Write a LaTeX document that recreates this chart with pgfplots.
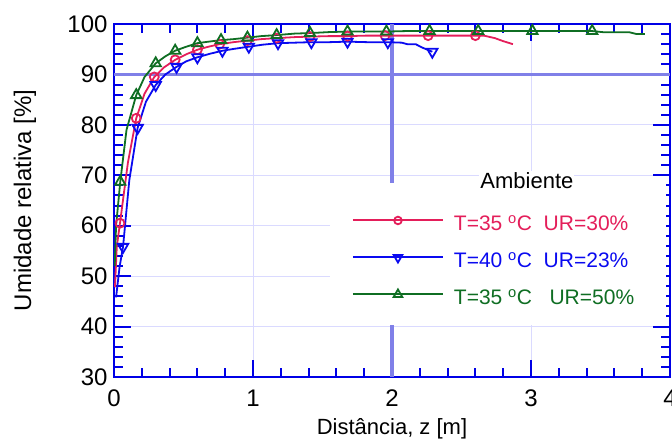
\documentclass[border=0pt]{standalone}
\usepackage{pgfplots}
\pgfplotsset{compat=1.18}
\usepackage{fontspec}
\setmainfont{Liberation Sans}
\definecolor{cred}{RGB}{228,30,90}
\definecolor{cblue}{RGB}{10,10,240}
\definecolor{cgreen}{RGB}{15,110,35}
\definecolor{caxis}{RGB}{0,0,230}
\definecolor{ccross}{RGB}{128,128,232}
\definecolor{cgrid}{RGB}{218,218,255}
\begin{document}
\begin{tikzpicture}
\path[use as bounding box] (-114bp,-65bp) rectangle (558bp,377bp);
\begin{axis}[
  scale only axis, width=556bp, height=353bp,
  xmin=0, xmax=4, ymin=30, ymax=100,
  xtick={0,1,2,3,4}, ytick={30,40,...,100},
  minor x tick num=4, minor y tick num=4,
  tick align=inside,
  major tick length=17bp, minor tick length=9bp,
  every tick/.style={caxis, line width=2bp},
  axis line style={caxis, line width=2.5bp},
  grid=major, major grid style={cgrid, line width=0.8bp},
  /pgf/number format/assume math mode=true,
  ticklabel style={font=\fontsize{24bp}{24bp}\selectfont},
  xticklabel style={yshift=-9bp},
  yticklabel style={xshift=-3bp},
  xlabel={Distância, z [m]},
  ylabel={Umidade relativa [\%]},
  xlabel style={font=\fontsize{22bp}{22bp}\selectfont, at={(axis description cs:0.5,-0.147)}, anchor=center},
  ylabel style={font=\fontsize{24bp}{24bp}\selectfont, at={(axis description cs:-0.16,0.5)}, anchor=center},
  legend cell align=left,
  legend style={at={(axis description cs:0.428,0.459)}, anchor=north west,
    draw=none, fill=none, inner sep=0pt, outer sep=0pt,
    font=\fontsize{21bp}{21bp}\selectfont,
    nodes={text height=16bp, text depth=5bp, inner sep=0pt},
    row sep=16bp, column sep=10bp},
]
\draw[ccross, line width=3.5bp] (axis cs:2,30) -- (axis cs:2,100);
\draw[ccross, line width=3.5bp] (axis cs:0,90) -- (axis cs:4,90);
\fill[white] (axis cs:1.554,40.3) rectangle (axis cs:3.97,68.45);
\node[fill=white, inner sep=1bp, anchor=base, font=\fontsize{22bp}{22bp}\selectfont] at (axis cs:2.971,67.46) {Ambiente};

% red
\addplot[cred, line width=1.8bp, forget plot] coordinates {
(0.007,47.8) (0.02,55.8) (0.043,60.5) (0.1,72.5) (0.16,81.3) (0.22,86.2) (0.29,89.5)
(0.36,91.4) (0.44,92.9) (0.52,94.0) (0.6,94.9) (0.68,95.5) (0.76,96.0) (0.86,96.4)
(0.96,96.7) (1.06,97.0) (1.17,97.2) (1.3,97.4) (1.41,97.5) (1.55,97.6) (1.68,97.6)
(1.82,97.7) (1.95,97.7) (2.1,97.7) (2.26,97.7) (2.45,97.7) (2.6,97.7) (2.66,97.7)
(2.74,97.2) (2.8,96.6) (2.87,96.0)};
\addplot[cred, only marks, mark=o, mark size=4.5bp, mark options={line width=1.8bp, solid},
  legend image code/.code={\draw[draw=cred, line width=2bp] (0bp,5bp) -- (90bp,5bp);
     \draw[draw=cred, fill=white, mark size=3.8bp, line width=1.4bp] plot coordinates {(45bp,5bp)};}] coordinates {
(0.043,60.5) (0.16,81.3) (0.29,89.5) (0.44,92.9) (0.6,94.9) (0.76,96.0) (0.96,96.7)
(1.17,97.2) (1.41,97.5) (1.68,97.6) (1.95,97.7) (2.26,97.7) (2.6,97.7)};
\addlegendentry{\textcolor{cred}{T=35 \textsuperscript{o}C\ \ UR=30\%}}

% blue
\addplot[cblue, line width=1.8bp, forget plot] coordinates {
(0.015,45.8) (0.04,51.8) (0.065,55.8) (0.11,69) (0.17,79.4) (0.23,84.6) (0.3,87.9)
(0.37,90.0) (0.45,91.5) (0.52,92.6) (0.6,93.4) (0.69,94.1) (0.78,94.7) (0.87,95.1)
(0.97,95.5) (1.07,95.9) (1.18,96.2) (1.3,96.3) (1.42,96.4) (1.55,96.4) (1.68,96.5)
(1.82,96.4) (1.97,96.4) (2.07,96.3) (2.11,96.0) (2.17,96.0) (2.22,95.3) (2.29,94.5)};
\addplot[cblue, only marks, mark=triangle, mark size=6bp, mark options={line width=1.8bp, solid, rotate=180},
  legend image code/.code={\draw[draw=cblue, line width=2bp] (0bp,5bp) -- (90bp,5bp);
     \draw[draw=cblue, fill=white, mark size=5bp, line width=1.4bp] plot coordinates {(45bp,5bp)};}] coordinates {
(0.065,55.8) (0.17,79.4) (0.3,87.9) (0.45,91.5) (0.6,93.4) (0.78,94.7) (0.97,95.5)
(1.18,96.2) (1.42,96.4) (1.68,96.5) (1.97,96.4) (2.29,94.5)};
\addlegendentry{\textcolor{cblue}{T=40 \textsuperscript{o}C\ \ UR=23\%}}

% green
\addplot[cgreen, line width=1.8bp, forget plot] coordinates {
(0.005,52) (0.015,60) (0.045,68.7) (0.09,79) (0.16,85.9) (0.22,89.5) (0.3,92.2)
(0.37,93.6) (0.44,94.7) (0.52,95.5) (0.6,96.2) (0.68,96.5) (0.77,96.8) (0.86,97.0)
(0.96,97.3) (1.06,97.6) (1.17,97.8) (1.3,98.1) (1.41,98.2) (1.55,98.4) (1.68,98.5)
(1.82,98.5) (1.96,98.5) (2.1,98.6) (2.27,98.6) (2.45,98.6) (2.62,98.6) (2.8,98.6)
(3.01,98.6) (3.2,98.6) (3.44,98.6) (3.53,98.35) (3.71,98.35) (3.76,98.0) (3.82,98.0)};
\addplot[cgreen, only marks, mark=triangle, mark size=6bp, mark options={line width=1.8bp, solid},
  legend image code/.code={\draw[draw=cgreen, line width=2bp] (0bp,5bp) -- (90bp,5bp);
     \draw[draw=cgreen, fill=white, mark size=5bp, line width=1.4bp] plot coordinates {(45bp,5bp)};}] coordinates {
(0.045,68.7) (0.16,85.9) (0.3,92.2) (0.44,94.7) (0.6,96.2) (0.77,96.8) (0.96,97.3)
(1.17,97.8) (1.41,98.2) (1.68,98.5) (1.96,98.5) (2.27,98.6) (2.62,98.6) (3.01,98.6) (3.44,98.6)};
\addlegendentry{\textcolor{cgreen}{T=35 \textsuperscript{o}C\ \ \ UR=50\%}}
\end{axis}
\end{tikzpicture}
\end{document}
